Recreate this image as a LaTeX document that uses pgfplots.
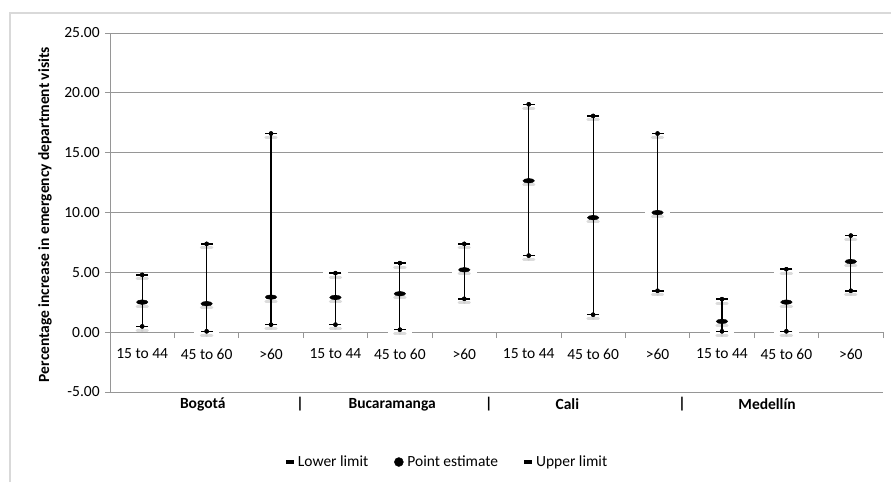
\documentclass[border=0pt]{standalone}
\usepackage{fontspec}
\setmainfont{Carlito}
\usepackage{pgfplots}
\usepackage{pgfplotstable}
\pgfplotsset{compat=1.18}
\definecolor{gridc}{RGB}{150,150,150}
\definecolor{framec}{RGB}{217,217,217}
\pgfplotstableread{
x low pt high
0 0.48 2.51 4.79
1 0.07 2.38 7.38
2 0.63 2.93 16.60
3 0.63 2.90 4.93
4 0.21 3.21 5.77
5 2.79 5.21 7.38
6 6.40 12.65 19.04
7 1.46 9.57 18.07
8 3.46 9.99 16.60
9 0.07 0.90 2.76
10 0.07 2.51 5.26
11 3.46 5.90 8.07
}\datatab
\pgfplotsset{
  halo/.style={forget plot, only marks, mark=none,
    error bars/.cd, x dir=both, x fixed=0.19, error mark=none,
    error bar style={white, line width=8pt, yshift=-2pt}},
  shadow/.style={forget plot, only marks, mark=none,
    error bars/.cd, x dir=both, x fixed=#1, error mark=none,
    error bar style={gray!45, line width=3pt, line cap=round, yshift=-4pt, opacity=0.6}},
}
\begin{document}
\fontsize{15.5}{18}\selectfont
\begin{tikzpicture}[x=1pt,y=1pt]
\useasboundingbox (0,0) rectangle (891,482);
\draw[framec, line width=1.5pt] (10,0) -- (10,469) -- (891,469);
\begin{axis}[
  at={(110pt,90pt)}, anchor=south west,
  scale only axis, width=773pt, height=359pt,
  xmin=-0.5, xmax=11.5, ymin=-5, ymax=25,
  axis x line=middle, axis y line=left,
  axis line style={gridc, line width=0.8pt, -},
  clip=false,
  ytick={-5,0,5,10,15,20,25},
  yticklabel style={/pgf/number format/.cd, fixed, fixed zerofill, precision=2, assume math mode=true},
  ymajorgrids, grid style={gridc, line width=0.8pt},
  tick align=outside,
  ytick style={draw=gridc, line width=0.8pt},
  major tick length=5pt,
  xtick={0,...,11},
  xticklabels={15 to 44,45 to 60,>60,15 to 44,45 to 60,>60,15 to 44,45 to 60,>60,15 to 44,45 to 60,>60},
  xtick style={draw=none},
  x tick label style={yshift=-6pt},
  extra x ticks={-0.5,0.5,...,11.5},
  extra x tick labels={},
  extra x tick style={xtick style={draw=gridc, line width=0.8pt}, major tick length=6pt},
  ylabel={Percentage increase in emergency department visits},
  ylabel style={font=\fontsize{15.5}{18}\selectfont\bfseries, at={(axis description cs:-0.084,0.494)}, anchor=center},
  legend style={at={(0.438,-0.195)}, anchor=center, draw=none, legend columns=3,
    /tikz/every even column/.append style={column sep=22pt}, font=\fontsize{15.5}{18}\selectfont,
    nodes={inner xsep=4pt}},
  legend cell align=left,
]
% white halo (gaps in grid lines)
\addplot[halo] table[x=x,y=low] {\datatab};
\addplot[halo] table[x=x,y=pt] {\datatab};
\addplot[halo] table[x=x,y=high] {\datatab};
% shadows
\addplot[shadow=0.08] table[x=x,y=low] {\datatab};
\addplot[shadow=0.08] table[x=x,y=pt] {\datatab};
\addplot[shadow=0.08] table[x=x,y=high] {\datatab};
% vertical lines
\addplot[forget plot, only marks, mark=none, black,
  error bars/.cd, y dir=both, y explicit, error mark=none,
  error bar style={black, line width=1.2pt}]
  table[x=x, y=pt, y error plus expr=\thisrow{high}-\thisrow{pt}, y error minus expr=\thisrow{pt}-\thisrow{low}] {\datatab};
% series
\addplot[only marks, mark=-, mark size=6pt, line width=1.5pt, black,
  legend image post style={mark size=4pt, line width=3.5pt}] table[x=x,y=low] {\datatab};
\addlegendentry{Lower limit}
\addplot[only marks, mark=*, mark size=2.3pt, black, mark options={xscale=2.5},
  legend image post style={mark size=4.5pt, mark options={}}] table[x=x,y=pt] {\datatab};
\addlegendentry{Point estimate}
\addplot[only marks, mark=-, mark size=6pt, line width=1.5pt, black,
  legend image post style={mark size=4pt, line width=3.5pt}] table[x=x,y=high] {\datatab};
\addlegendentry{Upper limit}
% group labels
\node[font=\bfseries] at (axis cs:0.94,-6.04) {Bogotá};
\node[font=\bfseries] at (axis cs:2.45,-6.04) {|};
\node[font=\bfseries] at (axis cs:3.88,-6.04) {Bucaramanga};
\node[font=\bfseries] at (axis cs:5.38,-6.04) {|};
\node[font=\bfseries] at (axis cs:6.60,-6.04) {Cali};
\node[font=\bfseries] at (axis cs:8.38,-6.04) {|};
\node[font=\bfseries] at (axis cs:9.70,-6.04) {Medellín};
\end{axis}
\end{tikzpicture}
\end{document}
